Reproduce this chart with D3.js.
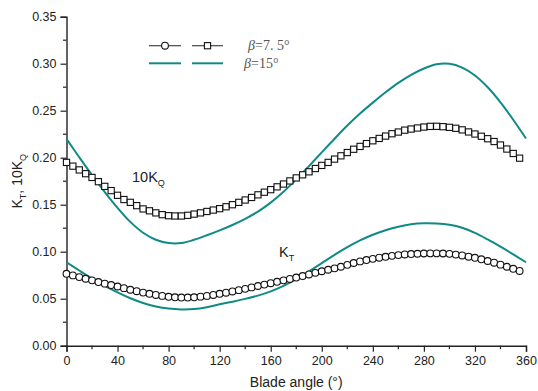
<!DOCTYPE html>
<html>
<head>
<meta charset="utf-8">
<script src="https://cdn.jsdelivr.net/npm/d3@7"></script>
<style>
  body { margin: 0; background: #fff; }
  svg text { font-family: Arial, "Liberation Sans", sans-serif; fill: #222; }
</style>
</head>
<body>
<svg id="chart" width="538" height="391"></svg>
<script>
// Blade angles for marker series (every 5 degrees)
const markerAngles = d3.range(0, 360, 5);
// Blade angles for smooth lines (every 10 degrees)
const lineAngles = d3.range(0, 361, 10);

// KT, beta = 7.5 deg (circles)
const kt75 = [
  0.0765, 0.0748, 0.0730, 0.0712, 0.0695, 0.0677, 0.0660, 0.0645, 0.0630, 0.0612,
  0.0595, 0.0580, 0.0565, 0.0552, 0.0540, 0.0530, 0.0520, 0.0515, 0.0512, 0.0512,
  0.0515, 0.0522, 0.0530, 0.0540, 0.0552, 0.0564, 0.0577, 0.0591, 0.0605, 0.0620,
  0.0635, 0.0650, 0.0665, 0.0680, 0.0695, 0.0710, 0.0725, 0.0741, 0.0758, 0.0775,
  0.0792, 0.0808, 0.0823, 0.0840, 0.0860, 0.0880, 0.0897, 0.0911, 0.0924, 0.0936,
  0.0946, 0.0956, 0.0964, 0.0971, 0.0975, 0.0978, 0.0981, 0.0982, 0.0982, 0.0981,
  0.0977, 0.0969, 0.0960, 0.0947, 0.0935, 0.0919, 0.0901, 0.0883, 0.0862, 0.0840,
  0.0818, 0.0795
];

// 10KQ, beta = 7.5 deg (squares)
const kq75 = [
  0.1950, 0.1910, 0.1870, 0.1830, 0.1790, 0.1745, 0.1695, 0.1650, 0.1600, 0.1555,
  0.1525, 0.1490, 0.1455, 0.1435, 0.1413, 0.1394, 0.1383, 0.1380, 0.1380, 0.1387,
  0.1400, 0.1413, 0.1428, 0.1443, 0.1458, 0.1478, 0.1500, 0.1525, 0.1550, 0.1577,
  0.1605, 0.1633, 0.1660, 0.1690, 0.1720, 0.1753, 0.1785, 0.1818, 0.1850, 0.1885,
  0.1918, 0.1950, 0.1985, 0.2020, 0.2055, 0.2090, 0.2120, 0.2150, 0.2180, 0.2205,
  0.2230, 0.2255, 0.2273, 0.2293, 0.2305, 0.2316, 0.2326, 0.2333, 0.2334, 0.2330,
  0.2323, 0.2313, 0.2296, 0.2274, 0.2252, 0.2228, 0.2202, 0.2172, 0.2135, 0.2092,
  0.2045, 0.1995
];

// KT, beta = 15 deg (line)
const kt15 = [
  0.0888, 0.0800, 0.0715, 0.0637, 0.0567, 0.0505, 0.0455, 0.0418, 0.0395, 0.0386,
  0.0390, 0.0410, 0.0440, 0.0468, 0.0498, 0.0533, 0.0578, 0.0636, 0.0708, 0.0790,
  0.0878, 0.0966, 0.1048, 0.1120, 0.1180, 0.1228, 0.1266, 0.1293, 0.1303, 0.1301,
  0.1287, 0.1255, 0.1200, 0.1130, 0.1053, 0.0972, 0.0888
];

// 10KQ, beta = 15 deg (line)
const kq15 = [
  0.2200, 0.2005, 0.1815, 0.1635, 0.1467, 0.1317, 0.1202, 0.1127, 0.1092, 0.1092,
  0.1127, 0.1175, 0.1227, 0.1284, 0.1349, 0.1427, 0.1522, 0.1637, 0.1769, 0.1911,
  0.2057, 0.2202, 0.2342, 0.2470, 0.2586, 0.2696, 0.2796, 0.2881, 0.2949, 0.2994,
  0.2999, 0.2959, 0.2874, 0.2749, 0.2589, 0.2404, 0.2204
];

const xTicks = d3.range(0, 361, 40);
const yTicks = d3.range(0, 0.351, 0.05);

const teal = "#108a87";

const svg = d3.select("#chart");
const margin = { left: 66.5, right: 12, top: 16.7, bottom: 45.3 };
const width = 538, height = 391;

const x = d3.scaleLinear().domain([0, 360]).range([margin.left, width - margin.right]);
const y = d3.scaleLinear().domain([0, 0.35]).range([height - margin.bottom, margin.top]);

// Axes
const xAxis = svg.append("g")
  .attr("transform", `translate(0,${y(0)})`)
  .call(d3.axisBottom(x).tickValues(xTicks).tickSize(6).tickPadding(4).tickFormat(d3.format("d")));
const yAxis = svg.append("g")
  .attr("transform", `translate(${x(0)},0)`)
  .call(d3.axisLeft(y).tickValues(yTicks).tickSize(6).tickPadding(4).tickFormat(d3.format(".2f")));

[xAxis, yAxis].forEach(g => {
  g.select(".domain").attr("stroke", "#222").attr("stroke-width", 1.4);
  g.selectAll(".tick line").attr("stroke", "#222").attr("stroke-width", 1.2);
  g.selectAll(".tick text").attr("font-size", 12.5).attr("fill", "#222");
});

// Minor ticks
svg.append("g").selectAll("line")
  .data(d3.range(20, 360, 40))
  .join("line")
  .attr("x1", d => x(d)).attr("x2", d => x(d))
  .attr("y1", y(0)).attr("y2", y(0) + 3.5)
  .attr("stroke", "#222").attr("stroke-width", 1.2);
svg.append("g").selectAll("line")
  .data(d3.range(0.025, 0.35, 0.05))
  .join("line")
  .attr("x1", x(0) - 3.5).attr("x2", x(0))
  .attr("y1", d => y(d)).attr("y2", d => y(d))
  .attr("stroke", "#222").attr("stroke-width", 1.2);

// Axis titles
svg.append("text")
  .attr("x", (x(0) + x(360)) / 2).attr("y", 387)
  .attr("text-anchor", "middle").attr("font-size", 14)
  .text("Blade angle (°)");

const yTitle = svg.append("text")
  .attr("transform", `translate(22,${(y(0) + y(0.35)) / 2}) rotate(-90)`)
  .attr("text-anchor", "middle").attr("font-size", 14);
yTitle.append("tspan").text("K");
yTitle.append("tspan").attr("font-size", 9).attr("dy", 4).text("T");
yTitle.append("tspan").attr("dy", -4).text(", 10K");
yTitle.append("tspan").attr("font-size", 9).attr("dy", 4).text("Q");

// Teal lines (beta = 15)
const line = d3.line()
  .x((d, i) => x(lineAngles[i]))
  .y(d => y(d))
  .curve(d3.curveCatmullRom);

[kq15, kt15].forEach(series => {
  svg.append("path")
    .datum(series)
    .attr("d", line)
    .attr("fill", "none")
    .attr("stroke", teal)
    .attr("stroke-width", 2);
});

// Squares (10KQ, beta = 7.5)
const sq = 6.2;
svg.append("g").selectAll("rect")
  .data(kq75)
  .join("rect")
  .attr("x", (d, i) => x(markerAngles[i]) - sq / 2)
  .attr("y", d => y(d) - sq / 2)
  .attr("width", sq).attr("height", sq)
  .attr("fill", "#fff")
  .attr("stroke", "#111")
  .attr("stroke-width", 1.1);

// Circles (KT, beta = 7.5)
svg.append("g").selectAll("circle")
  .data(kt75)
  .join("circle")
  .attr("cx", (d, i) => x(markerAngles[i]))
  .attr("cy", d => y(d))
  .attr("r", 3.4)
  .attr("fill", "#fff")
  .attr("stroke", "#111")
  .attr("stroke-width", 1.1);

// Curve annotations
const kqLabel = svg.append("text").attr("x", 132).attr("y", 182).attr("font-size", 14.5);
kqLabel.append("tspan").text("10K");
kqLabel.append("tspan").attr("font-size", 9).attr("dy", 4).text("Q");

const ktLabel = svg.append("text").attr("x", 279).attr("y", 257).attr("font-size", 14.5);
ktLabel.append("tspan").text("K");
ktLabel.append("tspan").attr("font-size", 9).attr("dy", 4).text("T");

// Legend
const legend = svg.append("g");
const row1 = 45.7, row2 = 63.3;
[[149, 181], [192, 223]].forEach(([a, b], i) => {
  legend.append("line")
    .attr("x1", a).attr("x2", b).attr("y1", row1).attr("y2", row1)
    .attr("stroke", "#444").attr("stroke-width", 1.2);
  legend.append("line")
    .attr("x1", a).attr("x2", b).attr("y1", row2).attr("y2", row2)
    .attr("stroke", teal).attr("stroke-width", 2);
  const cx = (a + b) / 2;
  if (i === 0) {
    legend.append("circle").attr("cx", cx).attr("cy", row1).attr("r", 3.4)
      .attr("fill", "#fff").attr("stroke", "#111").attr("stroke-width", 1.1);
  } else {
    legend.append("rect").attr("x", cx - sq / 2).attr("y", row1 - sq / 2)
      .attr("width", sq).attr("height", sq)
      .attr("fill", "#fff").attr("stroke", "#111").attr("stroke-width", 1.1);
  }
});

const legendLabels = ["=7. 5°", "=15°"];
legendLabels.forEach((lab, i) => {
  const t = legend.append("text")
    .attr("x", i === 0 ? 248 : 244)
    .attr("y", (i === 0 ? row1 : row2) + 4.5)
    .attr("font-size", 14)
    .style("font-family", "'Liberation Serif', 'Times New Roman', serif")
    .style("fill", "#555");
  t.append("tspan").attr("font-style", "italic").text("β");
  t.append("tspan").text(lab);
});
</script>
</body>
</html>
